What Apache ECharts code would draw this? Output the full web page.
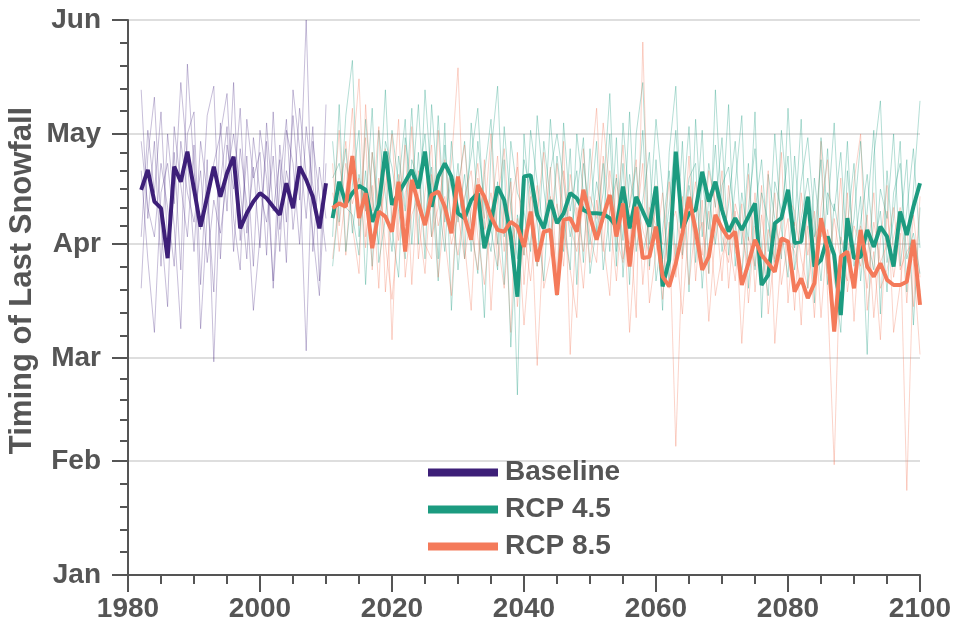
<!DOCTYPE html>
<html><head><meta charset="utf-8">
<script src="https://cdn.jsdelivr.net/npm/echarts@6/dist/echarts.min.js"></script>
<style>html,body{margin:0;padding:0;background:#fff}#c{width:953px;height:637px}</style>
</head><body><div id="c"></div>
<script>
// y values: days after 1 January
const monthLabels = ['Jan','Feb','Mar','Apr','May','Jun'];
const monthDays = [0, 31, 59, 90, 120, 151];
const minorDays = [6.2,12.4,18.6,24.8, 36.6,42.2,47.8,53.4, 65.2,71.4,77.6,83.8, 95,100,105,110,115, 126.2,132.4,138.6,144.8];

const baselineStart = 1982;
const rcpStart = 2011;

const baselineMean = [104.8,110.2,101.6,99.8,86.2,111.1,107,115.2,105,94.8,102.9,111.1,102.9,109.3,113.8,94.3,98.4,101.6,103.9,102.5,100.2,98,106.6,99.8,111.1,107.5,102.9,94.3,106.6];

const baselineMembers = [
  [132,97,118,84,120,101,134,113,88,118,104,77,123,99,134,91,114,84,121,108,80,117,96,125,102,151,88,111,97],
  [92,121,104,126,90,115,83,139,110,94,125,133,86,117,105,127,93,111,89,123,99,113,85,132,116,97,122,80,128],
  [110,86,66,104,112,95,67,120,126,79,113,58,107,122,88,116,101,72,92,118,78,106,124,94,111,61,118,103,88],
  [78,114,130,95,73,122,106,92,117,67,98,112,120,131,97,83,124,108,115,87,126,94,110,100,127,109,93,76,112],
  [118,100,92,112,100,84,118,104,96,110,85,102,93,108,120,105,86,119,104,96,114,88,121,112,90,122,106,95,104]
];

const rcp45Mean = [
  97.1,107,101.1,103.9,105.9,104.8,96.1,100.7,115.2,100.7,
  103.9,107,110.2,105.2,115.2,100.2,108.4,112,108.4,98.4,
  97.1,102,103.9,88.9,96.1,105.7,102,92.1,75.7,108.4,
  108.8,98,94.3,102,95.7,98.4,103.9,102.5,99.3,98.4,
  98.4,98.2,97.1,94.8,105.7,94.3,102.9,98.9,94.8,105.7,
  78.5,85.7,115.2,94.3,98.4,99.3,109.7,101.6,107,99.3,
  93.4,97.1,93.9,97.5,101.1,78.9,81.6,95.7,97.1,104.8,
  90.3,90.7,102.9,83.9,85.7,92.1,87.1,70.7,97.1,86.2,
  86.6,93.9,89.3,94.8,92.1,83.9,98.9,92.5,100.2,106.6
];

const rcp85Mean = [
  99.8,101.1,100.2,114,97.1,103.9,88.9,98.9,97.5,93.4,
  107,88,107.5,101.1,95.2,103.4,104.3,100.2,93,108.4,
  97.5,91.2,106.1,102.9,97.5,93.9,93.4,96.1,94.8,89.3,
  98.9,85.3,93.4,93.9,76.2,96.6,97.1,93.4,104.8,97.5,
  91.2,97.5,103.4,92.1,101.1,83.9,100.2,86.2,86.6,94.8,
  81.2,78.5,84.8,93,102.9,93.9,83,86.6,98,94.3,
  91.6,93.4,78.9,84.8,91.2,87.1,84.8,82.5,91.6,90.7,
  77.1,80.7,75.3,79.4,97.1,88.4,66.2,86.6,88,78,
  93.9,83.9,81.2,84.8,80.3,78.9,78.9,79.8,91.2,73.5
];

const rcp45Members = [
  [118,96,125,140,92,110,84,121,103,88, 114,99,127,90,132,106,80,117,95,112, 86,123,101,70,115,133,92,108,49,120,
   97,84,118,102,76,123,99,110,85,116, 93,104,131,88,112,79,120,134,90,101, 72,115,133,87,106,95,121,82,132,98,
   128,84,104,91,126,70,109,97,86,127, 95,124,78,108,92,116,82,66,110,88, 103,60,114,129,85,97,118,77,105,129],
  [92,128,88,106,121,79,115,99,132,94, 81,119,104,128,97,111,86,123,72,105, 118,95,82,109,124,90,113,62,98,87,
   121,107,93,124,101,88,116,79,112,97, 118,83,99,108,91,126,88,102,115,80, 94,110,86,118,77,124,92,112,100,119,
   87,106,125,78,99,113,88,120,94,81, 114,90,103,74,119,98,123,87,95,112, 80,99,121,71,110,88,94,113,68,100],
  [108,112,100,98,87,124,103,90,118,111, 99,86,113,107,120,92,125,96,108,83, 102,114,127,96,88,107,79,118,104,99,
   88,125,105,91,114,98,83,120,104,90, 107,96,120,84,123,100,111,87,97,124, 105,80,112,99,122,85,107,94,117,88,
   101,118,90,112,83,104,96,85,121,100, 89,107,119,96,80,104,99,115,86,97, 118,92,83,105,97,120,84,99,116,89],
  [84,102,116,93,109,99,127,85,97,121, 106,124,90,115,86,128,103,88,118,96, 109,88,118,101,94,83,122,100,86,113,
   104,96,80,110,120,107,92,103,119,82, 95,112,88,119,81,109,97,121,84,113, 86,100,121,93,108,112,78,103,90,106,
   111,95,82,100,116,89,76,107,99,114, 83,97,108,92,113,79,101,90,118,84, 96,109,89,99,77,104,112,86,93,82]
];

const rcp85Members = [
  [98,121,87,113,135,92,106,78,116,64, 109,95,122,86,104,117,81,99,112,138, 90,72,108,97,120,84,101,66,115,79,
   103,57,94,111,82,118,60,100,88,107, 127,91,76,109,86,98,70,145,83,102, 75,96,35,88,114,80,102,69,93,110,
   78,99,63,92,84,106,71,89,115,74, 96,68,103,81,118,76,30,92,85,107, 120,72,88,64,99,81,93,23,86,60],
  [112,88,104,127,95,119,83,108,90,75, 96,117,79,110,90,86,121,92,76,105, 117,94,83,113,72,102,116,89,97,68,
   91,106,78,87,112,94,83,70,116,92, 85,114,98,80,103,66,95,112,74,88, 104,78,90,71,96,107,84,99,76,87,
   92,80,101,74,95,86,110,63,88,97, 72,104,87,99,70,94,85,108,77,90, 84,98,70,91,106,66,79,95,73,103],
  [86,103,118,95,82,128,99,122,77,100, 124,81,98,103,115,92,100,113,96,87, 103,110,92,79,98,114,88,107,73,94,
   80,99,115,93,101,84,109,96,78,103, 97,123,105,92,85,101,113,79,100,95, 90,107,81,103,79,96,87,110,101,80,
   106,88,83,109,77,98,82,104,79,91, 88,79,95,70,100,113,80,74,104,69, 95,86,104,78,83,92,100,74,98,81],
  [104,95,112,101,108,89,115,97,106,120, 91,104,110,97,82,109,95,103,90,98, 86,99,112,94,104,91,78,101,111,87,
   108,84,96,103,77,110,95,88,101,85, 102,88,110,97,117,90,103,94,87,106, 82,94,99,86,101,90,96,82,107,92,
   85,101,94,83,104,79,94,86,96,103, 99,86,78,92,96,82,97,85,80,95, 89,78,96,85,90,100,83,88,91,77]
];

const COL_BASE = '#3d1f78';
const COL_45 = '#1c9b80';
const COL_85 = '#f47a5a';
const THIN_BASE = 'rgba(70,40,130,0.3)';
const THIN_45 = 'rgba(28,155,128,0.33)';
const THIN_85 = 'rgba(244,122,90,0.33)';
const FONT = "'Liberation Sans', Arial, sans-serif";
const TXT = '#555555';

function pairs(start, vals) { return vals.map((v, i) => [start + i, v]); }

const series = [];
baselineMembers.forEach((m, k) => series.push({
  name: 'base_m' + k, type: 'line', data: pairs(baselineStart, m), showSymbol: false, silent: true,
  lineStyle: { color: THIN_BASE, width: 1 }, z: 1, animation: false
}));
for (let k = 0; k < rcp45Members.length; k++) {
  series.push({ name: 'r45_m' + k, type: 'line', data: pairs(rcpStart, rcp45Members[k]), showSymbol: false, silent: true,
    lineStyle: { color: THIN_45, width: 1 }, z: 1, animation: false });
  series.push({ name: 'r85_m' + k, type: 'line', data: pairs(rcpStart, rcp85Members[k]), showSymbol: false, silent: true,
    lineStyle: { color: THIN_85, width: 1 }, z: 1, animation: false });
}
series.push({ name: 'Baseline', type: 'line', data: pairs(baselineStart, baselineMean), showSymbol: false,
  lineStyle: { color: COL_BASE, width: 4 }, itemStyle: { color: COL_BASE }, z: 5, animation: false });
series.push({ name: 'RCP 4.5', type: 'line', data: pairs(rcpStart, rcp45Mean), showSymbol: false,
  lineStyle: { color: COL_45, width: 4 }, itemStyle: { color: COL_45 }, z: 6, animation: false });
series.push({ name: 'RCP 8.5', type: 'line', data: pairs(rcpStart, rcp85Mean), showSymbol: false,
  lineStyle: { color: COL_85, width: 4 }, itemStyle: { color: COL_85 }, z: 7, animation: false });

const chart = echarts.init(document.getElementById('c'), null, { renderer: 'canvas' });
chart.setOption({
  backgroundColor: '#ffffff',
  animation: false,
  grid: { left: 128, right: 33, top: 20, bottom: 62, containLabel: false, outerBoundsMode: 'none' },
  legend: {
    data: ['Baseline', 'RCP 4.5', 'RCP 8.5'],
    orient: 'vertical', left: 423, top: 452,
    itemWidth: 70, itemHeight: 8, itemGap: 6, icon: 'rect',
    textStyle: { fontFamily: FONT, fontWeight: 'bold', fontSize: 28, color: TXT, lineHeight: 31, padding: [0, 0, 0, 2] }
  },
  xAxis: {
    type: 'value', min: 1980, max: 2100, interval: 20,
    axisLine: { show: true, onZero: false, lineStyle: { color: TXT, width: 2 } },
    axisTick: { show: true, length: 17, lineStyle: { color: TXT, width: 2 } },
    minorTick: { show: true, splitNumber: 4, length: 9, lineStyle: { color: TXT, width: 2 } },
    splitLine: { show: false },
    axisLabel: { fontFamily: FONT, fontWeight: 'bold', fontSize: 28, color: TXT, margin: 20,
      formatter: v => String(v) }
  },
  yAxis: [
    {
      type: 'value', min: 0, max: 151, position: 'left',
      name: 'Timing of Last Snowfall', nameLocation: 'middle', nameGap: 90, nameRotate: 90, nameMoveOverlap: false,
      nameTextStyle: { fontFamily: FONT, fontWeight: 'bold', fontSize: 31, color: TXT, padding: [0, 0, 0, 34] },
      axisLine: { show: true, onZero: false, lineStyle: { color: TXT, width: 2 } },
      axisTick: { show: true, length: 16, customValues: monthDays, lineStyle: { color: TXT, width: 2 } },
      axisLabel: { customValues: monthDays, fontFamily: FONT, fontWeight: 'bold', fontSize: 28, color: TXT, margin: 27,
        formatter: v => monthLabels[monthDays.indexOf(v)] },
      splitLine: { show: true, lineStyle: { color: '#dedede', width: 2 } }
    },
    {
      type: 'value', min: 0, max: 151, position: 'left', gridIndex: 0,
      axisLine: { show: false },
      axisTick: { show: true, length: 8, customValues: minorDays, lineStyle: { color: TXT, width: 2 } },
      axisLabel: { show: false },
      splitLine: { show: false }
    }
  ],
  series: series
});
</script>
</body></html>
